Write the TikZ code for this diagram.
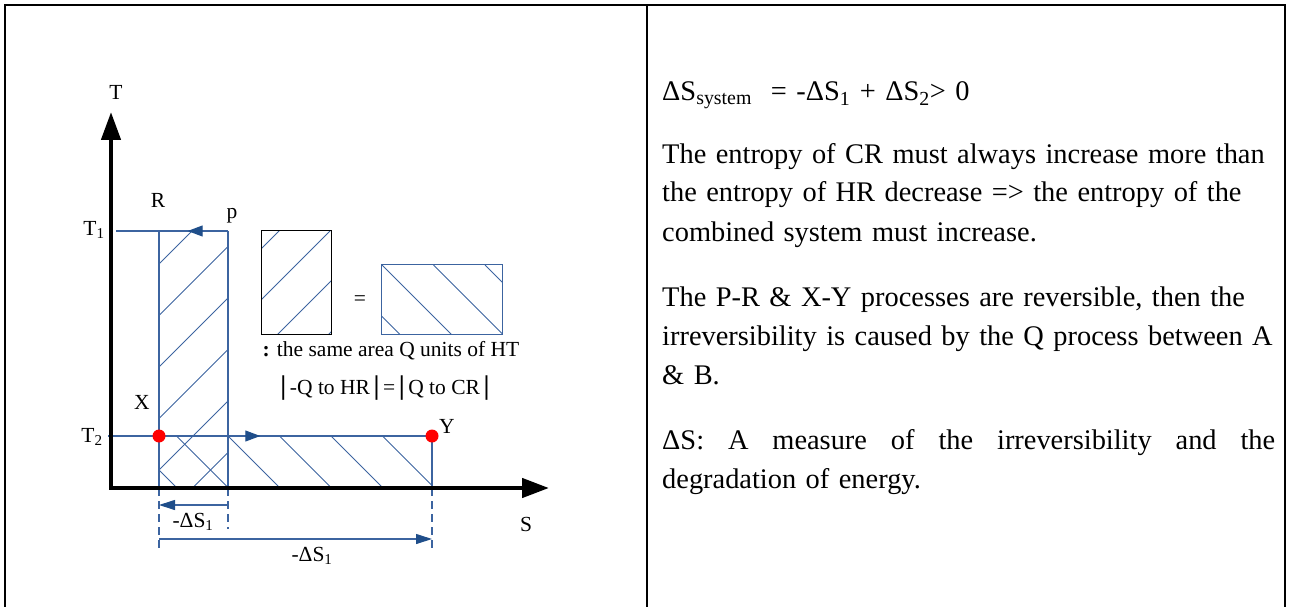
\documentclass[tikz,border=0pt]{standalone}
\usepackage{fontspec}
\setmainfont{Liberation Serif}
\usetikzlibrary{arrows.meta,decorations.markings}
\definecolor{Steel}{HTML}{3C64A0}
\definecolor{Navy}{HTML}{1F4E8A}
\newcommand{\absbar}{{\fontsize{27}{27}\selectfont\textbf{|}}}

\begin{document}
\begin{tikzpicture}[x=1pt,y=-1pt,
  frame/.style={line width=2pt},
  axis/.style={line width=4.5pt,{Triangle[length=28pt,width=19pt]}-{Triangle[length=27pt,width=19pt]}},
  guide/.style={draw=Steel,line width=1.1pt},
  dashguide/.style={guide,dash pattern=on 8pt off 5pt},
  hatch/.style={draw=Steel,line width=0.9pt},
  dim/.style={guide,-{Triangle[length=16pt,width=10pt,color=Navy]}},
  flow/.style={guide,postaction={decorate},decoration={markings,
    mark=at position #1 with {\arrow{Triangle[length=15pt,width=11pt,color=Navy]}}}},
  dot/.style={circle,fill=red,inner sep=0pt,minimum size=13pt},
  lbl/.style={font=\fontsize{21.5}{24}\selectfont,inner sep=0pt},
  body/.style={font=\fontsize{28.4}{39}\selectfont,inner sep=0pt,anchor=base west,
    align=left,text width=640pt}]
\useasboundingbox (0,0) rectangle (1290,607);
% table frame
\draw[frame] (5,607)--(5,5)--(1285,5)--(1285,607);
\draw[frame] (647,5)--(647,607);
% key points of the T-S plot
\coordinate (O) at (111,488);\coordinate (Ttip) at (111,112);\coordinate (Stip) at (549,488);
\coordinate (R) at (159,231);\coordinate (P) at (228,231);\coordinate (T1a) at (116,231);
\coordinate (X) at (159,436);\coordinate (Y) at (432,436);\coordinate (T2a) at (108,436);
\coordinate (Xb) at (159,488);\coordinate (Pb) at (228,488);\coordinate (Yb) at (432,488);
\coordinate (Xd) at (159,551);\coordinate (Pd) at (228,529);\coordinate (Yd) at (432,551);
\coordinate (d1a) at (228,505);\coordinate (d1b) at (159,505);
\coordinate (d2a) at (159,539);\coordinate (d2b) at (432,539);
% hatched areas
\begin{scope}
  \clip (R) rectangle (Pb);
  \foreach \c in {264,315.5,...,521.5} \draw[hatch] (149,\c+10) -- ++(100,-100);
\end{scope}
\begin{scope}
  \clip (X) rectangle (Yb);
  \foreach \s in {125,176.5,...,382.5} \draw[hatch] (\s,436) -- ++(70,70);
\end{scope}
% legend boxes
\node[minimum width=69pt,minimum height=103pt,inner sep=0pt] (eqA) at (296.5,282.5) {};
\node[minimum width=120pt,minimum height=69pt,inner sep=0pt] (eqB) at (442,299.5) {};
\begin{scope}
  \clip (eqA.south west) rectangle (eqA.north east);
  \foreach \c in {248,299,...,401} \draw[hatch] (252,\c+10) -- ++(100,-100);
\end{scope}
\begin{scope}
  \clip (eqB.south west) rectangle (eqB.north east);
  \foreach \s in {330.5,382,...,536.5} \draw[hatch] (\s,265) -- ++(90,90);
\end{scope}
\draw[line width=1.3pt] (eqA.south west) rectangle (eqA.north east);
\draw[draw=Steel,line width=1.3pt] (eqB.south west) rectangle (eqB.north east);
\node[lbl] (eqsign) at (360,301) {=};
\node[lbl] (same) at (391,351) {\textbf{:} the same area Q units of HT};
\node[lbl] (absq) at (385,388) {\absbar\,-Q to HR\,\absbar\,=\,\absbar\,Q to CR\,\absbar};
% process lines
\draw[flow=0.36] (P) -- (T1a);
\draw[guide] (R) -- (Xb);\draw[guide] (P) -- (Pb);
\draw[flow=0.47] (T2a) -- (Y);
\draw[guide] (Y) -- (Yb);
\draw[dashguide] (Xb) -- (Xd);\draw[dashguide] (Pb) -- (Pd);\draw[dashguide] (Yb) -- (Yd);
\draw[dim] (d1a) -- (d1b);\draw[dim] (d2a) -- (d2b);
% axes
\draw[axis] (Ttip) |- (Stip);
\node[dot] (Xp) at (X) {};\node[dot] (Yp) at (Y) {};
% labels
\node[lbl] (Tl) at (116,92) {T};\node[lbl] (Sl) at (526,524) {S};
\node[lbl] (T1l) at (94,230) {T\textsubscript{1}};\node[lbl] (T2l) at (92,437) {T\textsubscript{2}};
\node[lbl] (Rl) at (158,200) {R};\node[lbl] (pl) at (232,216) {p};
\node[lbl] (Xl) at (142,402) {X};\node[lbl] (Yl) at (447,426) {Y};
\node[lbl] (ds1) at (193,522) {-ΔS\textsubscript{1}};
\node[lbl] (ds2) at (312,556) {-ΔS\textsubscript{1}};
% right column text
\node[body] (eqn) at (662,101) {ΔS\textsubscript{system}\ \ = -ΔS\textsubscript{1} + ΔS\textsubscript{2}> 0};
\node[body] (para1) at (662,163) {The entropy of CR must always increase more than\\
  the entropy of HR decrease => the entropy of the\\combined system must increase.};
\node[body] (para2) at (662,306) {The P-R \& X-Y processes are reversible, then the\\
  irreversibility is caused by the Q process between A\\\& B.};
\node[body] (para3) at (662,449) {\makebox[613pt][s]{\spaceskip=0pt ΔS: A measure of the irreversibility and the}\\
  degradation of energy.};
\end{tikzpicture}
\end{document}
